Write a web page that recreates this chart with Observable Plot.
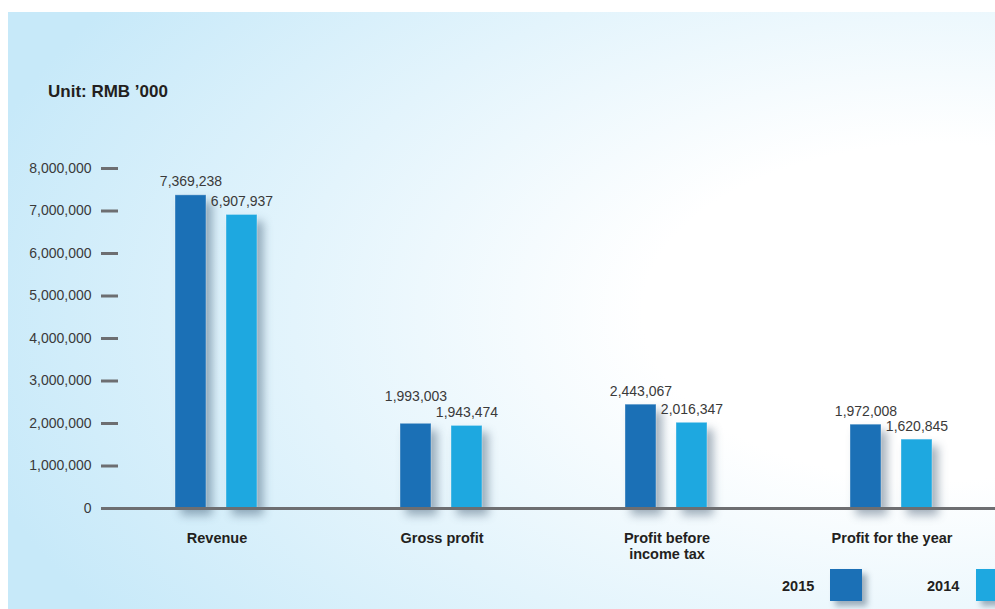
<!DOCTYPE html>
<html>
<head>
<meta charset="utf-8">
<script src="https://cdn.jsdelivr.net/npm/d3@7"></script>
<script src="https://cdn.jsdelivr.net/npm/@observablehq/plot@0.6"></script>
<style>
  html, body { margin: 0; padding: 0; background: #fff; overflow: hidden; }
  #wrap { position: absolute; left: 0; top: 0; width: 995px; height: 609px; overflow: hidden;
          font-family: "Liberation Sans", Arial, Helvetica, sans-serif; }
  #panel { position: absolute; left: 8px; top: 12px; right: 0; bottom: 0;
           background: radial-gradient(ellipse 1000px 560px at 935px 300px, #ffffff 0%, #ffffff 30%, #c7e9f9 100%); }
  #title { position: relative; height: 120px; box-sizing: border-box; padding: 82px 0 0 48px;
           font-size: 17px; line-height: 20px; font-weight: bold; color: #231f20; }
  #chart { position: relative; }
  #chart svg g[aria-label="bar"] rect { filter: drop-shadow(6px 7px 5px rgba(20, 50, 80, 0.38)); }
  #legend { position: relative; height: 44px; }
  .lg-text { position: absolute; top: 13px; font-size: 14.5px; line-height: 16px; font-weight: bold; color: #231f20; }
  .lg-box { position: absolute; top: 4px; width: 32px; height: 32px; box-shadow: 5px 5px 6px rgba(20, 50, 80, 0.38); }
</style>
</head>
<body>
<div id="wrap">
  <div id="panel"></div>
  <div id="title">Unit: RMB ’000</div>
  <div id="chart"></div>
  <div id="legend"></div>
</div>
<script>
// ---- data ----
const categories = ["Revenue", "Gross profit", "Profit before income tax", "Profit for the year"];
const years = ["2015", "2014"];
const values2015 = [7369238, 1993003, 2443067, 1972008];
const values2014 = [6907937, 1943474, 2016347, 1620845];
const yTicks = [0, 1000000, 2000000, 3000000, 4000000, 5000000, 6000000, 7000000, 8000000];
const categoryLabels = {
  "Revenue": "Revenue",
  "Gross profit": "Gross profit",
  "Profit before income tax": "Profit before\nincome tax",
  "Profit for the year": "Profit for the year"
};
const colors = ["#1b70b6", "#1ea8e0"];

const rows = [];
categories.forEach((c, i) => {
  // when the two values are close, the 2015 label is lifted so the two labels don't collide
  const close = Math.abs(values2015[i] - values2014[i]) < 300000;
  rows.push({category: c, year: years[0], value: values2015[i], lifted: close});
  rows.push({category: c, year: years[1], value: values2014[i], lifted: false});
});

const fmt = d3.format(",");
const labelStyle = {fx: "category", x: "year", y: "value", text: d => fmt(d.value),
                    lineAnchor: "bottom", fill: "#3a3a3a", fontSize: 14};

const chart = Plot.plot({
  width: 995,
  height: 445,
  marginTop: 48,
  marginBottom: 57,
  marginLeft: 103,
  marginRight: -9,
  style: {background: "transparent", fontFamily: "'Liberation Sans', Arial, Helvetica, sans-serif", fontSize: "14px", color: "#3a3a3a"},
  fx: {domain: categories, padding: 0, label: null},
  x: {domain: years, paddingInner: 0.385, paddingOuter: 1.36, axis: null},
  y: {domain: [0, 8000000], label: null},
  color: {domain: years, range: colors},
  marks: [
    Plot.barY(rows, {
      fx: "category", x: "year", y: "value", fill: "year",
      stroke: "rgba(255,255,255,0.35)", strokeWidth: 1
    }),
    Plot.ruleY([0], {stroke: "#6d6e71", strokeWidth: 3}),
    Plot.text(rows.filter(d => !d.lifted), {...labelStyle, dy: -9}),
    Plot.text(rows.filter(d => d.lifted), {...labelStyle, dy: -23}),
    Plot.axisY({
      ticks: yTicks, tickFormat: fmt, tickSize: 17, tickPadding: 10, dx: 14,
      stroke: "#6d6e71", strokeWidth: 3, fill: "#3a3a3a", fontSize: 14, label: null
    }),
    Plot.axisFx({
      anchor: "bottom", tickSize: 0, tickPadding: 23, label: null,
      tickFormat: d => categoryLabels[d], lineHeight: 1.1,
      fontSize: 14.5, fontWeight: "bold", fill: "#231f20"
    })
  ]
});
document.getElementById("chart").appendChild(chart);

// ---- legend ----
const legend = document.getElementById("legend");
const legendPos = [{text: 782, box: 830}, {text: 927, box: 976}];
years.forEach((y, i) => {
  const t = document.createElement("div");
  t.className = "lg-text";
  t.style.left = legendPos[i].text + "px";
  t.textContent = y;
  legend.appendChild(t);
  const b = document.createElement("div");
  b.className = "lg-box";
  b.style.left = legendPos[i].box + "px";
  b.style.background = colors[i];
  legend.appendChild(b);
});
</script>
</body>
</html>
